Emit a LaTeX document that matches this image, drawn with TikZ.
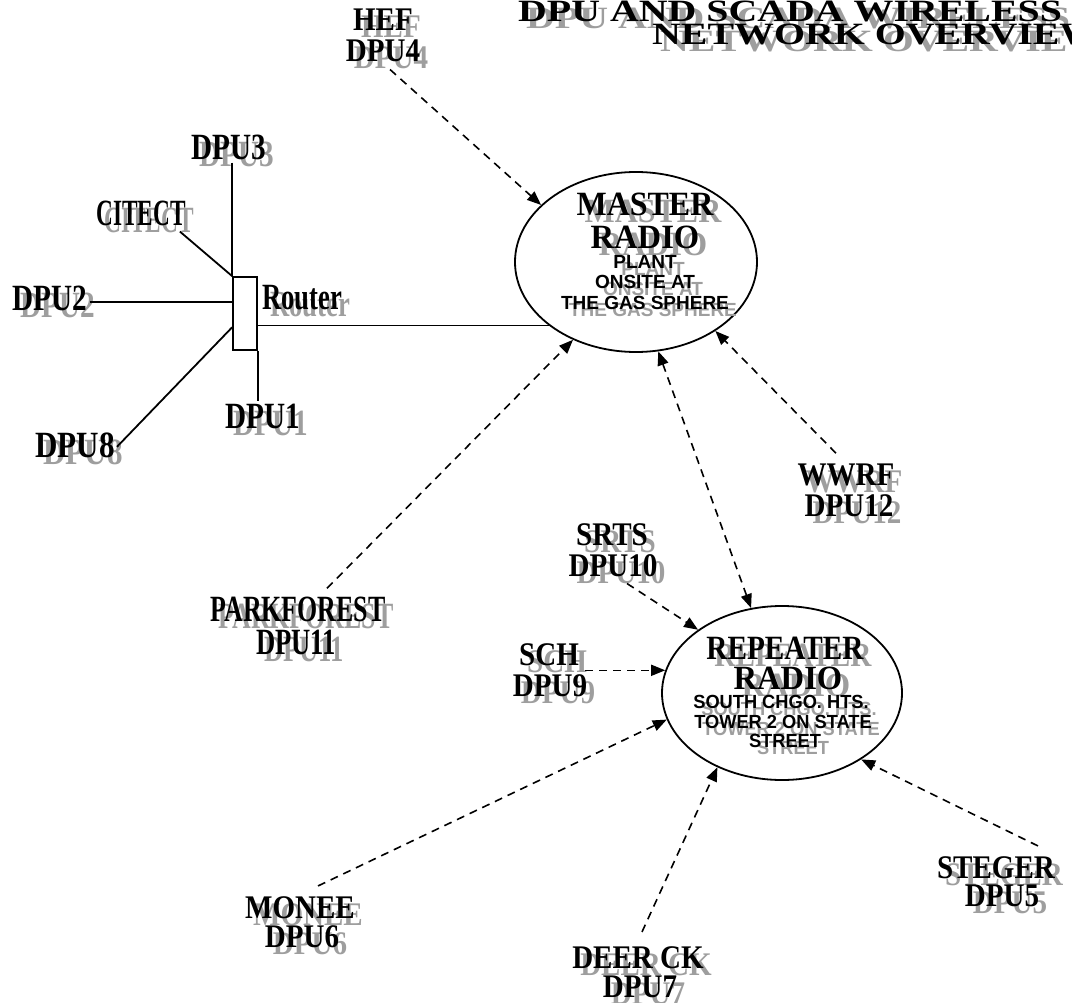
\documentclass[tikz,border=0pt]{standalone}
\usepackage{fontspec}
\setmainfont{Liberation Serif}
\newfontfamily\sansb{Liberation Sans}
\usepackage{graphicx}
\usetikzlibrary{arrows.meta,shapes.geometric,calc}
\definecolor{shadowgray}{gray}{0.62}
\newcommand\sx[2]{\scalebox{#1}[1]{#2}}
\newcommand\shlbl[5]{%
  \node[#2,text=shadowgray] (#1-s) at ($(#3,#4)+(8,7)$) {#5};
  \node[#2] (#1) at (#3,#4) {#5};}
\begin{document}
\begin{tikzpicture}[x=1pt,y=-1pt,
  titlef/.style={anchor=base west,inner sep=0pt,font=\fontsize{31}{32}\selectfont\bfseries},
  serifl/.style={anchor=base,inner sep=2pt,font=\fontsize{33}{34}\selectfont\bfseries},
  narrowl/.style={anchor=base,inner sep=2pt,font=\fontsize{37}{38}\selectfont\bfseries},
  headl/.style={anchor=base,inner sep=1pt,font=\fontsize{34}{35}\selectfont\bfseries},
  smalll/.style={anchor=base,inner sep=1pt,font=\fontsize{19}{20}\sansb\bfseries},
  radio/.style={draw,ellipse,line width=1.8pt,inner sep=0pt},
  wire/.style={line width=1.8pt},
  >={Triangle[length=14pt,width=11pt]},
  darrow/.style={line width=1.6pt,dash pattern=on 8pt off 6pt,->},
  biarrow/.style={line width=1.6pt,dash pattern=on 8pt off 6pt,<->}]
\fill[white] (0,0) rectangle (1072,1003);
\useasboundingbox (0,0) rectangle (1072,1003);

% title
\shlbl{title1}{titlef}{518}{22}{\sx{1.286}{DPU AND SCADA WIRELESS}}
\shlbl{title2}{titlef}{652}{45}{\sx{1.286}{NETWORK OVERVIEW}}

% radios
\node[radio,minimum width=242pt,minimum height=180pt] (master) at (636,262) {};
\node[radio,minimum width=240pt,minimum height=174pt] (repeater) at (782,693) {};

\shlbl{m1}{headl}{645}{216}{\sx{0.94}{MASTER}}
\shlbl{m2}{headl}{645}{249}{\sx{0.96}{RADIO}}
\shlbl{m3}{smalll}{645}{269}{PLANT}
\shlbl{m4}{smalll}{645}{289}{ONSITE AT}
\shlbl{m5}{smalll}{645}{310}{THE GAS SPHERE}

\shlbl{r1}{headl}{785}{659}{\sx{0.86}{REPEATER}}
\shlbl{r2}{headl}{788}{689}{\sx{0.96}{RADIO}}
\shlbl{r3}{smalll}{781}{708}{\sx{0.96}{SOUTH CHGO. HTS.}}
\shlbl{r4}{smalll}{783}{728}{\sx{0.96}{TOWER 2 ON STATE}}
\shlbl{r5}{smalll}{785}{747}{\sx{0.96}{STREET}}

% router and wired stations
\node[draw,line width=1.8pt,minimum width=24pt,minimum height=73pt,inner sep=0pt] (routerbox) at (245,313.5) {};
\shlbl{router}{narrowl,anchor=base west}{260}{310}{\sx{0.72}{Router}}
\shlbl{dpu3}{narrowl}{229}{160}{\sx{0.79}{DPU3}}
\shlbl{citect}{narrowl}{141}{226}{\sx{0.63}{CITECT}}
\shlbl{dpu2}{narrowl}{50}{311}{\sx{0.79}{DPU2}}
\shlbl{dpu1}{narrowl}{263}{428}{\sx{0.79}{DPU1}}
\shlbl{dpu8}{narrowl}{75}{457}{\sx{0.84}{DPU8}}

\coordinate (rb2) at ($(routerbox.north west)!0.342!(routerbox.south west)$);
\coordinate (rb8) at ($(routerbox.north west)!0.685!(routerbox.south west)$);
\draw[wire] (routerbox.north west |- dpu3.south) -- (routerbox.north west);
\draw[wire] ([xshift=-8pt,yshift=-3pt]citect.south east) -- (routerbox.north west);
\draw[wire] (dpu2.east |- rb2) -- (rb2);
\draw[wire] ([yshift=-2pt]dpu8.east) -- (rb8);
\draw[wire] (routerbox.south east) -- (routerbox.south east |- dpu1.north);
\draw[wire] (master.216 -| routerbox.east) -- (master.216);

% radio stations
\shlbl{hef}{serifl}{383}{31}{\sx{0.88}{HEF}}
\shlbl{dpu4}{serifl}{383}{62}{\sx{0.88}{DPU4}}
\shlbl{park}{narrowl}{298}{621}{\sx{0.70}{PARKFOREST}}
\shlbl{dpu11}{narrowl}{296}{654}{\sx{0.72}{DPU11}}
\shlbl{wwrf}{serifl}{846}{485}{\sx{0.88}{WWRF}}
\shlbl{dpu12}{serifl}{849}{516}{\sx{0.88}{DPU12}}
\shlbl{srts}{serifl}{612}{545}{\sx{0.88}{SRTS}}
\shlbl{dpu10}{serifl}{613}{576}{\sx{0.88}{DPU10}}
\shlbl{sch}{serifl}{549}{665}{\sx{0.88}{SCH}}
\shlbl{dpu9}{serifl}{550}{696}{\sx{0.88}{DPU9}}
\shlbl{monee}{serifl}{300}{918}{\sx{0.88}{MONEE}}
\shlbl{dpu6}{serifl}{302}{947}{\sx{0.88}{DPU6}}
\shlbl{deer}{serifl}{638}{968}{\sx{0.88}{DEER CK}}
\shlbl{dpu7}{serifl}{640}{997}{\sx{0.88}{DPU7}}
\shlbl{steger}{serifl}{996}{878}{\sx{0.88}{STEGER}}
\shlbl{dpu5}{serifl}{1002}{906}{\sx{0.88}{DPU5}}

\draw[darrow] ([xshift=7pt,yshift=-5pt]dpu4.south) -- (master.149);
\draw[darrow] ([xshift=29pt,yshift=6pt]park.north) -- (master.231);
\draw[darrow] ([xshift=-10pt,yshift=8pt]wwrf.north) -- (master.319);
\draw[biarrow] (master.284) -- (repeater.110);
\draw[darrow] ([xshift=14pt,yshift=-5pt]dpu10.south) -- (repeater.143);
\draw[darrow] ([xshift=4pt]sch.south east |- repeater.169) -- (repeater.169);
\draw[darrow] ([xshift=18pt,yshift=8pt]monee.north) -- (repeater.193);
\draw[darrow] ([xshift=4pt,yshift=12pt]deer.north) -- (repeater.229);
\draw[darrow] ([xshift=42pt,yshift=8pt]steger.north) -- (repeater.320);
\end{tikzpicture}
\end{document}
